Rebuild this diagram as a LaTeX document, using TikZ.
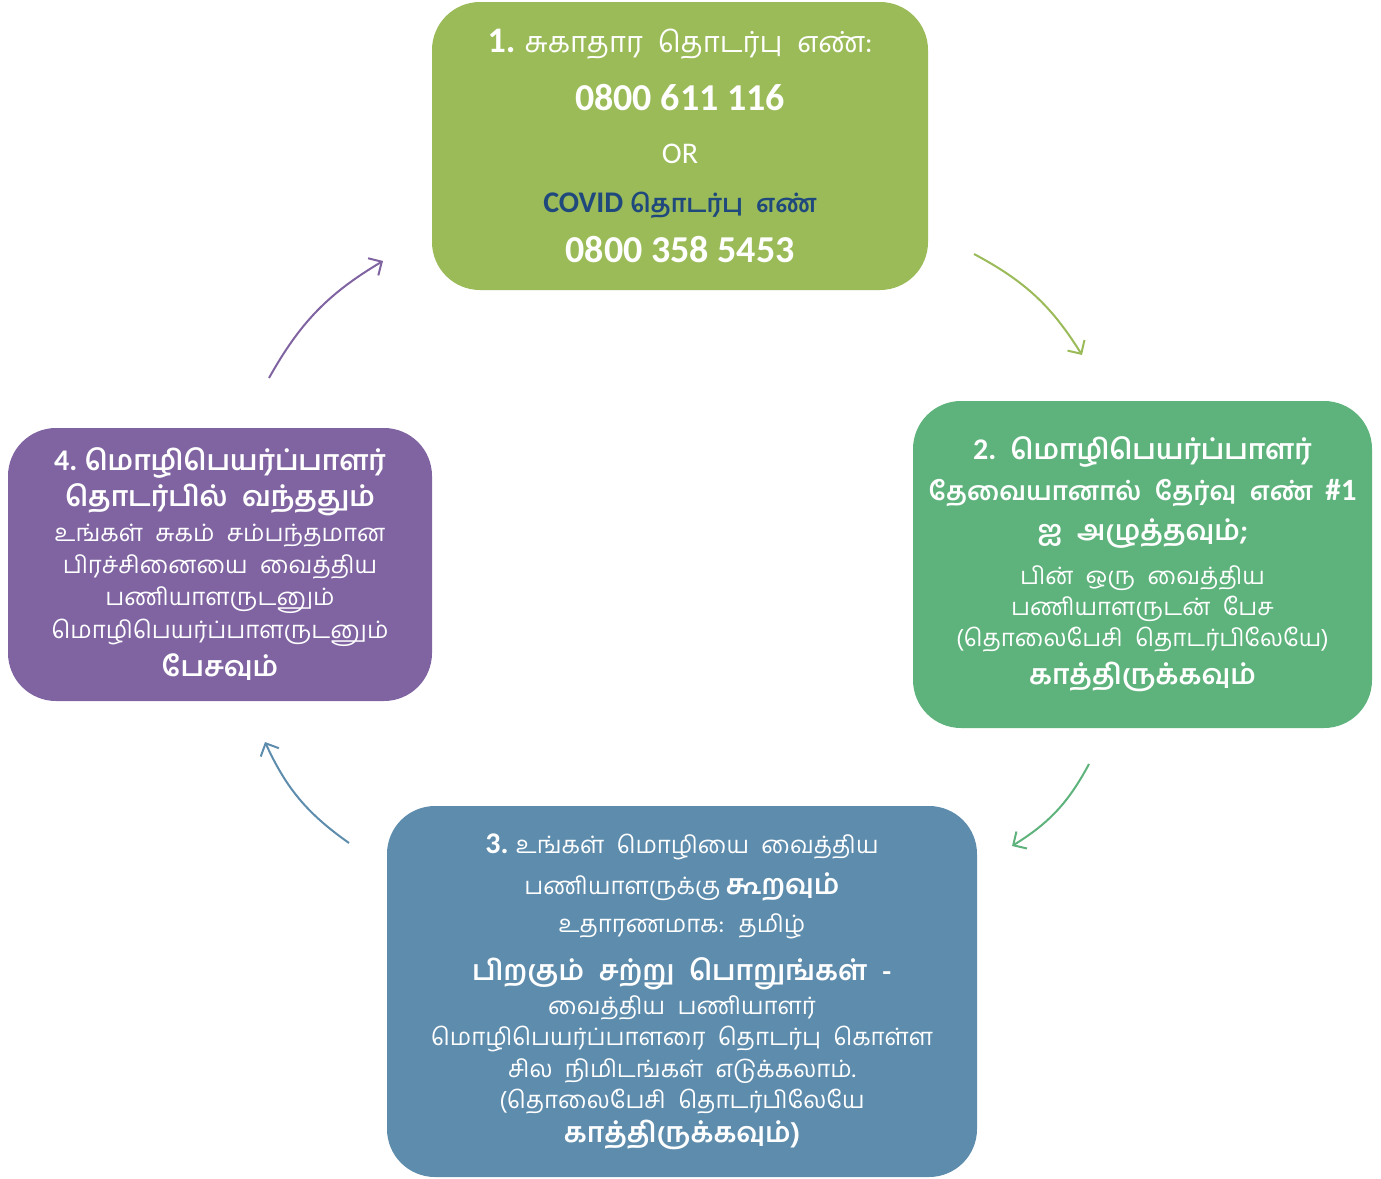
\documentclass[tikz,border=0pt]{standalone}
\usepackage{fontspec}
\setmainfont{Carlito}
\newfontfamily\tamil[Script=Tamil,WordSpace=2.1]{Hind Madurai}
\usetikzlibrary{arrows.meta}
\definecolor{stepone}{HTML}{9BBB59}
\definecolor{steptwo}{HTML}{5DB37B}
\definecolor{stepthree}{HTML}{5E8CAD}
\definecolor{stepfour}{HTML}{8064A2}
\definecolor{covidblue}{HTML}{1F497D}
\newcommand{\tm}[1]{{\tamil #1}}
\newcommand{\tb}[1]{{\fontsize{14}{14}\selectfont\tamil\bfseries #1}}
\newcommand{\tightskip}{\lineskiplimit=-30pt\relax}

\begin{document}
\begin{tikzpicture}[
  x=0.5pt, y=-0.5pt,
  box/.style={rounded corners=24pt, align=center, text=white, inner sep=0pt},
  arr/.style={-{Straight Barb[length=5pt,width=10pt]}, line width=1pt, bend left=15}
]
\useasboundingbox (0,0) rectangle (1381,1178);

% the four steps
\node[box, fill=stepone, minimum width=248pt, minimum height=144pt,
  font={\fontsize{15}{25}\selectfont\tightskip}] (call) at (680,146)
  {{\fontsize{18}{25}\selectfont\bfseries 1.} {\fontsize{14.5}{14}\selectfont\tamil சுகாதார தொடர்பு எண்:}\\[4pt]
   {\fontsize{19}{25}\selectfont\bfseries 0800 611 116}\\[1.5pt]
   OR\\[-0.5pt]
   {\color{covidblue}\bfseries COVID {\fontsize{12.5}{14}\selectfont\tamil தொடர்பு எண்}}\\
   {\fontsize{19}{25}\selectfont\bfseries 0800 358 5453}};

\node[box, fill=steptwo, minimum width=229.5pt, minimum height=163.5pt,
  font={\fontsize{12}{15.5}\selectfont\tightskip}] (press) at (1142.5,564.5)
  {{\fontsize{15}{15}\selectfont\bfseries 2.~} \tb{மொழிபெயர்ப்பாளர்}\\[5pt]
   {\fontsize{13}{14}\selectfont\tamil\bfseries தேவையானால் தேர்வு எண்} {\fontsize{15.5}{15}\selectfont\bfseries\ \#1}\\[4.5pt]
   \tb{ஐ அழுத்தவும்;}\\[6.5pt]
   \tm{பின் ஒரு வைத்திய}\\
   \tm{பணியாளருடன் பேச}\\
   \tm{(தொலைபேசி தொடர்பிலேயே)}\\[3.5pt]
   \tb{காத்திருக்கவும்}};

\node[box, fill=stepthree, minimum width=295pt, minimum height=185.5pt,
  font={\fontsize{12}{15.5}\selectfont\tightskip}] (lang) at (682,991.5)
  {{\fontsize{15}{15}\selectfont\bfseries 3.} \tm{உங்கள் மொழியை வைத்திய}\\[5pt]
   \tm{பணியாளருக்கு} \tb{கூறவும்}\\[3.5pt]
   \tm{உதாரணமாக: தமிழ்}\\[8.5pt]
   \tb{பிறகும் சற்று பொறுங்கள் -}\\[1.5pt]
   \tm{வைத்திய பணியாளர்}\\
   \tm{மொழிபெயர்ப்பாளரை தொடர்பு கொள்ள}\\[0.5pt]
   \tm{சில நிமிடங்கள் எடுக்கலாம்.}\\
   \tm{(தொலைபேசி தொடர்பிலேயே}\\[1.5pt]
   \tb{காத்திருக்கவும்)}};

\node[box, fill=stepfour, minimum width=212pt, minimum height=136.5pt,
  font={\fontsize{12}{16}\selectfont\tightskip}] (talk) at (220,564.5)
  {{\fontsize{15}{15}\selectfont\bfseries 4.} \tb{மொழிபெயர்ப்பாளர்}\\[2pt]
   \tb{தொடர்பில் வந்ததும்}\\[1.5pt]
   \tm{உங்கள் சுகம் சம்பந்தமான}\\
   \tm{பிரச்சினையை வைத்திய}\\
   \tm{பணியாளருடனும்}\\[0.5pt]
   \tm{மொழிபெயர்ப்பாளருடனும்}\\[3pt]
   \tb{பேசவும்}};

% arrow ends
\coordinate (a1s) at (974,254);
\coordinate (a1e) at (1082,355);
\coordinate (a2s) at (1089,764);
\coordinate (a2e) at (1012,846);
\coordinate (a3s) at (349,843);
\coordinate (a3e) at (265,742);
\coordinate (a4s) at (269,378);
\coordinate (a4e) at (383,261);

\draw[arr, stepone] (a1s) to (a1e);
\draw[arr, steptwo] (a2s) to (a2e);
\draw[arr, stepthree] (a3s) to (a3e);
\draw[arr, stepfour] (a4s) to (a4e);
\end{tikzpicture}
\end{document}
